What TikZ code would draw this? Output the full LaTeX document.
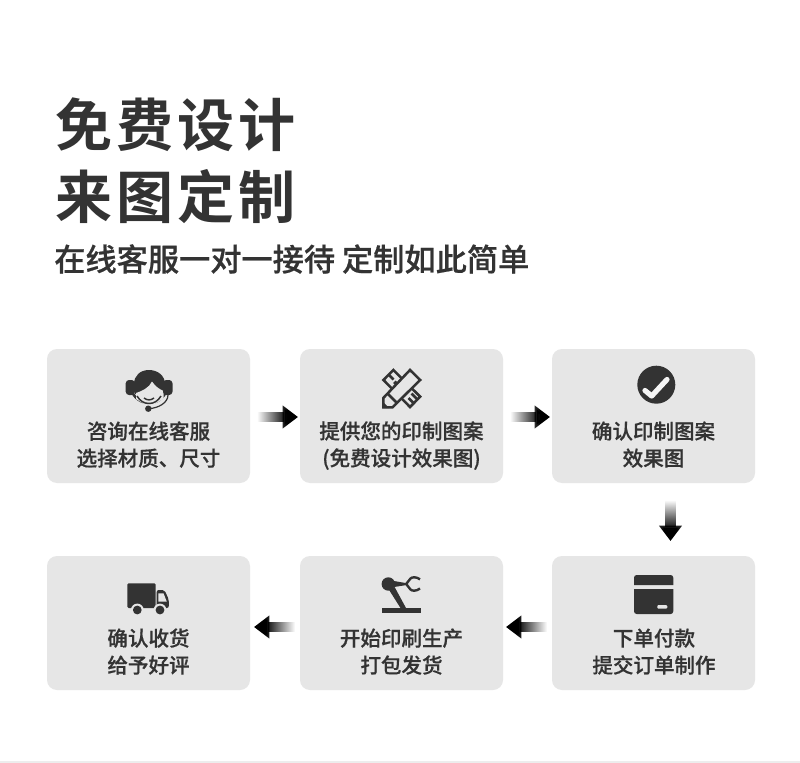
\documentclass[tikz,border=0pt]{standalone}
\usepackage{fontspec}
\usetikzlibrary{calc,arrows.meta,fadings}
\newfontfamily\cjkt[LetterSpace=7]{Noto Sans CJK SC Bold}
\newfontfamily\cjkm[FakeBold=0.6]{Noto Sans CJK SC Medium}
\definecolor{ink}{HTML}{333333}
\definecolor{cardfill}{HTML}{E6E6E6}
\tikzfading[name=tailfadeE,left color=transparent!100,middle color=transparent!0,right color=transparent!0]
\tikzfading[name=tailfadeW,right color=transparent!100,middle color=transparent!0,left color=transparent!0]
\tikzfading[name=tailfadeS,top color=transparent!100,middle color=transparent!0,bottom color=transparent!0]
\tikzset{
  card/.style={rectangle,rounded corners=7.5pt,fill=cardfill,minimum width=152.25pt,minimum height=100.5pt,inner sep=0pt,outer sep=0pt},
  caption/.style={text=ink,font=\fontsize{15.4pt}{20.25pt}\selectfont\cjkm,align=center,inner sep=0pt},
  titletext/.style={text=ink,font=\fontsize{42.8pt}{50pt}\selectfont\cjkt,anchor=west,inner sep=0pt},
  subtext/.style={text=ink,font=\fontsize{23.4pt}{30pt}\selectfont\cjkm,anchor=west,inner sep=0pt},
  flow/.style={line width=8pt,black,-{Triangle[length=11.5pt,width=16.5pt]}},
  icon/.style={fill=ink,draw=none},
  iconline/.style={draw=ink,line width=1.9pt,line join=miter},
}
\begin{document}
\begin{tikzpicture}[x=0.75pt,y=-0.75pt]
\useasboundingbox (0,0) rectangle (800,763);
\fill[white] (0,0) rectangle (800,763);
\fill[black!7] (0,761) rectangle (800,763);
% title
\node[titletext] (t1) at (55,125) {免费设计};
\node[titletext] (t2) at (55,197) {来图定制};
\node[subtext] (t3) at (54,259) {在线客服一对一接待 定制如此简单};
% cards
\node[card] (c1) at (148.5,416) {};
\node[card] (c2) at (401.5,416) {};
\node[card] (c3) at (653.5,416) {};
\node[card] (c4) at (653.5,623) {};
\node[card] (c5) at (401.5,623) {};
\node[card] (c6) at (148.5,623) {};
% captions
\node[caption] (l1) at ($(c1.center)+(0,28.6)$) {咨询在线客服\\选择材质、尺寸};
\node[caption] (l2) at ($(c2.center)+(0,29.6)$) {提供您的印制图案\\(免费设计效果图)};
\node[caption] (l3) at ($(c3.center)+(0,28.6)$) {确认印制图案\\效果图};
\node[caption] (l4) at ($(c4.center)+(0.5,28.6)$) {下单付款\\提交订单制作};
\node[caption] (l5) at ($(c5.center)+(0,28.6)$) {开始印刷生产\\打包发货};
\node[caption] (l6) at ($(c6.center)+(0,28.6)$) {确认收货\\给予好评};
% connectors
\draw[flow,path fading=tailfadeE,fit fading=false,fading transform={shift={($(c1.east)!.5!(c2.west)+(-3,1)$)},xscale=.45}]
  ($(c1.east)+(7,1)$) -- ($(c2.west)+(-2,1)$);
\draw[flow,path fading=tailfadeE,fit fading=false,fading transform={shift={($(c2.east)!.5!(c3.west)+(-2.5,1)$)},xscale=.45}]
  ($(c2.east)+(7,1)$) -- ($(c3.west)+(-2,1)$);
\draw[flow,path fading=tailfadeS,fit fading=false,fading transform={shift={($(c3.south)!.5!(c4.north)+(17,-4.5)$)},yscale=.45}]
  ($(c3.south)+(17,16)$) -- ($(c4.north)+(17,-15)$);
\draw[flow,path fading=tailfadeW,fit fading=false,fading transform={shift={($(c4.west)!.5!(c5.east)+(4.5,4)$)},xscale=.45}]
  ($(c4.west)+(-5,4)$) -- ($(c5.east)+(3,4)$);
\draw[flow,path fading=tailfadeW,fit fading=false,fading transform={shift={($(c5.west)!.5!(c6.east)+(5,4)$)},xscale=.45}]
  ($(c5.west)+(-5,4)$) -- ($(c6.east)+(4,4)$);
% icon 1: headset agent
\draw[ink,line width=1.9pt] (130.5,384.5) arc[start angle=180,end angle=0,radius=18.5];
\fill[icon] (149,370) .. controls (140,370) and (134,376) .. (134,384) -- (135,394) -- (164,394) -- (165,384) .. controls (165,376) and (158,370) .. (149,370) -- cycle;
\fill[cardfill] (136,393) .. controls (142,391) and (149,388) .. (152,381.5) .. controls (155,386) and (159,389) .. (163.5,391) -- (163.5,399) -- (149,407) -- (136,399) -- cycle;
\draw[ink,line width=1.1pt] (137,396) .. controls (140,401) and (144,403.5) .. (149,403.5) .. controls (154,403.5) and (158,401) .. (161,396);
\draw[ink,line width=1.1pt] (144,398) .. controls (147,400.5) and (151,400.5) .. (154,398);
\fill[icon,rounded corners=2.5pt] (125.7,380) rectangle (135,395);
\fill[icon,rounded corners=2.5pt] (163,380) rectangle (172.5,395);
\draw[ink,line width=.9pt] (168,395) .. controls (168,403) and (158,408) .. (150,408.5);
\fill[icon] (148.3,408.7) circle[radius=3.2];
% icon 2: pencil over ruler
\draw[iconline] (383.5,380) -- (393.3,370) -- (420.2,396.7) -- (410,407) -- cycle;
\draw[iconline] (389,375) -- (393.5,379.5) (394,384) -- (396.5,381.5)
  (413.5,403) -- (408.5,398) (417,399) -- (411.5,393.5);
\draw[iconline,fill=cardfill] (410,370) -- (420.2,380) -- (392.5,407.3) -- (383.3,407.3) -- (383.3,398) -- cycle;
\draw[iconline] (387.5,393.5) -- (397,403);
\fill[icon] (382.6,408) -- (382.6,401.5) -- (389,408) -- cycle;
% icon 3: check
\fill[icon] (656.3,384.7) circle[radius=19];
\draw[draw=white!60!cardfill,line width=3.9pt,line cap=round,line join=round] (645,390.5) -- (651.7,396) -- (667,379.5);
% icon 4: payment card
\fill[icon] (634,585) [rounded corners=2pt] -- (634,575) -- (673.3,575) [sharp corners] -- (673.3,585) -- cycle;
\fill[icon] (634,589) [rounded corners=2pt] -- (634,614) -- (673.3,614) [sharp corners] -- (673.3,589) -- cycle;
\fill[cardfill,rounded corners=.8pt] (657.3,605) rectangle (667.3,608.7);
% icon 5: robot arm
\fill[icon] (381.7,607.7) rectangle (421,612.8);
\fill[icon] (388.8,589.5) -- (394.6,587) -- (406,608) -- (400.5,608) -- cycle;
\fill[icon] (388.3,584) circle[radius=6.7];
\fill[icon] (391,580.5) -- (406.7,583.2) -- (406.7,585) -- (391,587.5) -- cycle;
\draw[ink,line width=1.8pt,line join=round] (420,579.3) .. controls (416,576.5) and (412,577) .. (410.5,578.5) -- (406.2,584) -- (410.5,589.5) .. controls (412,591) and (416,591.5) .. (420,588.5);
% icon 6: truck
\fill[icon,rounded corners=1pt] (127.3,583.3) rectangle (155.7,608);
\fill[icon,rounded corners=1.5pt] (156.7,590) -- (164.5,590) -- (168.8,599.5) -- (168.8,608) -- (156.7,608) -- cycle;
\fill[cardfill] (158.3,593.3) -- (163.5,593.3) -- (166.8,601.7) -- (158.3,601.7) -- cycle;
\fill[cardfill] (137.3,610) circle[radius=6.4];
\fill[cardfill] (160,610) circle[radius=6.4];
\fill[icon] (137.3,610) circle[radius=4.4];
\fill[icon] (160,610) circle[radius=4.4];
\end{tikzpicture}
\end{document}
